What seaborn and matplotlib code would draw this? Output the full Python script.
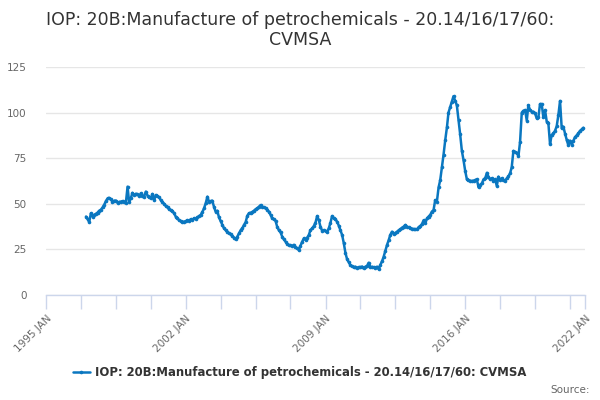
import matplotlib
matplotlib.use("Agg")
import matplotlib.pyplot as plt
from matplotlib.lines import Line2D
import seaborn as sns
import pandas as pd

# monthly values, Jan 1997 .. Dec 2021
v1997 = [43, 41.5, 40, 44.8, 43, 44, 44.5, 45.2, 46.2, 46.8, 48, 49.5]
v1998 = [51.5, 53, 53.2, 52.5, 51, 51.7, 51.8, 50.6, 51, 51.2, 51.5, 50.8]
v1999 = [50.5, 59.4, 51, 53, 56, 54.8, 55.5, 55.2, 54.3, 55.7, 54.5, 54]
v2000 = [56.7, 54.5, 53.5, 53, 55.4, 52, 54.8, 54.3, 53.5, 52, 51, 50]
v2001 = [48.8, 48, 47, 46.5, 46, 44.8, 43, 42, 41, 40.5, 40.2, 40.2]
v2002 = [40.5, 41, 40.8, 41.5, 41.2, 42, 41.8, 42.5, 43.3, 43.9, 45.5, 47.5]
v2003 = [50.3, 53.9, 51.2, 51.5, 51.7, 48.4, 45.7, 46.2, 42.5, 40.5, 38.5, 36.6]
v2004 = [35.5, 34.7, 33.8, 33.2, 32.3, 31.5, 30.5, 32, 33.8, 35.5, 36.6, 38.4]
v2005 = [40, 43.5, 44.8, 45.1, 45.5, 46.2, 47, 47.5, 48.4, 49.3, 48.4, 48]
v2006 = [47.5, 46.8, 45.7, 44, 42, 41.5, 40.7, 37.4, 35.5, 34.3, 32, 30.5]
v2007 = [29.2, 28, 27.4, 27.2, 26.9, 27.5, 26.1, 25.5, 24.7, 27, 29.2, 31]
v2008 = [30.2, 31.5, 32.9, 35.6, 36.5, 37.8, 39.6, 43.3, 41, 37.4, 35.2, 35.6]
v2009 = [35, 34.7, 36.5, 39.5, 43.3, 42, 41.5, 40.2, 38, 35.5, 32.9, 28.5]
v2010 = [23, 19.5, 18, 16.4, 15.8, 15.2, 15.5, 15, 15.3, 15.2, 15.6, 14.8]
v2011 = [15.5, 16, 17.7, 15.2, 15.5, 15.2, 15, 15.5, 14.1, 16.5, 18.5, 21]
v2012 = [24.3, 27.5, 30, 33, 34.7, 33.4, 34, 34.7, 35.5, 36, 36.9, 37.5]
v2013 = [38.4, 37.5, 37.1, 36.6, 36.4, 36.2, 36, 36, 37.2, 37.8, 38.9, 41]
v2014 = [39.3, 42, 43, 43.9, 45.7, 46.6, 52, 51.2, 59, 63, 70, 77]
v2015 = [85, 92, 100, 103, 106, 109, 106.5, 104, 96, 88, 79, 74]
v2016 = [68, 63.4, 62.8, 62.7, 62.5, 62.7, 63, 63.4, 59, 60.5, 61.2, 63.4]
v2017 = [64, 67, 64.9, 63.4, 64, 62.7, 63.4, 59.8, 64.9, 63, 64, 62.8]
v2018 = [62.7, 64, 65, 66.7, 70, 79, 78.5, 78, 76.2, 84, 100, 101]
v2019 = [101.4, 95.6, 104, 101.5, 100.5, 100.5, 99.6, 96.9, 97.4, 104.7, 104.7, 97.4]
v2020 = [101.4, 95, 94.5, 82.8, 87.7, 88.6, 90, 92.5, 98.7, 106.4, 91.4, 92.3]
v2021 = [88.5, 85, 82.2, 84.6, 82.5, 84.6, 86.5, 87.5, 88.6, 90, 90.8, 91.7]

values = (v1997 + v1998 + v1999 + v2000 + v2001 + v2002 + v2003 + v2004 + v2005
          + v2006 + v2007 + v2008 + v2009 + v2010 + v2011 + v2012 + v2013 + v2014
          + v2015 + v2016 + v2017 + v2018 + v2019 + v2020 + v2021)
dates = pd.date_range("1997-01-01", periods=len(values), freq="MS")
df = pd.DataFrame({"date": dates, "value": values})

series_name = "IOP: 20B:Manufacture of petrochemicals - 20.14/16/17/60: CVMSA"
title = "IOP: 20B:Manufacture of petrochemicals - 20.14/16/17/60:\nCVMSA"
label_years = ["1995", "2002", "2009", "2016", "2022"]
y_ticks = [0, 25, 50, 75, 100, 125]

line_color = "#0a77c0"
axis_color = "#ccd6eb"
grid_color = "#e6e6e6"
text_gray = "#666666"

sns.set_theme(style="white")
plt.rcParams["font.family"] = ["DejaVu Sans"]

fig = plt.figure(figsize=(6, 4), dpi=100)
ax = fig.add_axes([0.0767, 0.2625, 0.8983, 0.57])

sns.lineplot(data=df, x="date", y="value", ax=ax, color=line_color, linewidth=1.8,
             marker="o", markersize=2.6, markeredgewidth=0, legend=False)

ax.set_xlim(pd.Timestamp("1995-01-01"), pd.Timestamp("2022-01-01"))
ax.set_ylim(0, 125)
ax.set_yticks(y_ticks)
ax.yaxis.grid(True, color=grid_color, linewidth=1)
ax.xaxis.grid(False)
ax.set_axisbelow(True)

major = [pd.Timestamp(y + "-01-01") for y in label_years]
minor = list(pd.date_range("1995-01-01", "2021-12-31", freq="21MS"))
ax.set_xticks(major)
ax.set_xticklabels([y + " JAN" for y in label_years], rotation=45, ha="right",
                   rotation_mode="anchor", fontsize=7.5, color=text_gray)
ax.set_xticks(minor, minor=True)
ax.tick_params(axis="x", which="both", bottom=True, length=10, width=1,
               color=axis_color, direction="out", pad=3)
ax.tick_params(axis="y", length=0, labelsize=7.5, labelcolor=text_gray, pad=14)

for s in ["top", "right", "left"]:
    ax.spines[s].set_visible(False)
ax.spines["bottom"].set_color(axis_color)
ax.spines["bottom"].set_linewidth(1)
ax.set_xlabel("")
ax.set_ylabel("")

fig.text(0.5, 0.925, title, ha="center", va="center", fontsize=12.5,
         color="#333333", linespacing=1.2)

handle = Line2D([], [], color=line_color, linewidth=1.8, marker="o",
                markersize=2.6, markeredgewidth=0)
fig.legend([handle], [series_name], loc="center", bbox_to_anchor=(0.5, 0.068),
           frameon=False, handlelength=1.4, handletextpad=0.5,
           prop={"size": 8.4, "weight": "bold"}, labelcolor="#333333")
fig.text(0.983, 0.025, "Source:", ha="right", va="center", fontsize=7.5,
         color=text_gray)

fig.savefig("out.png", dpi=100)
